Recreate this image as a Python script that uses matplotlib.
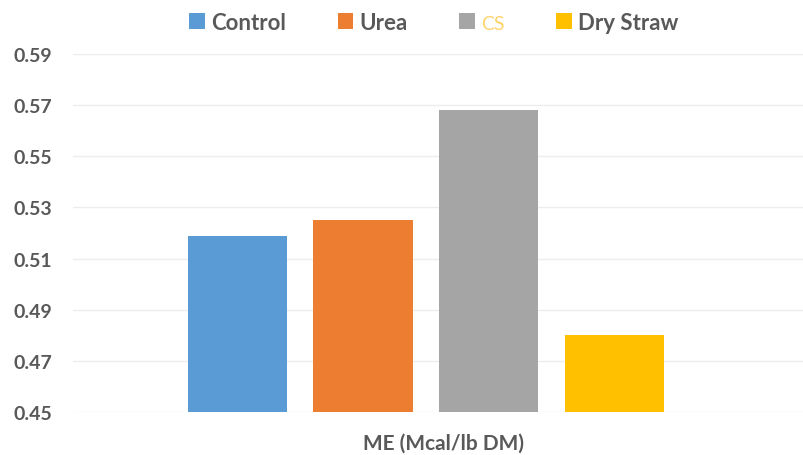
import matplotlib
matplotlib.use('Agg')
import matplotlib.pyplot as plt
from matplotlib.patches import Patch

plt.rcParams['font.family'] = ['Lato', 'DejaVu Sans']

groups = ['Control', 'Urea', 'CS', 'Dry Straw']
me_values = [0.519, 0.525, 0.568, 0.480]
colors = ['#5B9BD5', '#ED7D31', '#A5A5A5', '#FFC000']
y_ticks = [0.45, 0.47, 0.49, 0.51, 0.53, 0.55, 0.57, 0.59]

text_gray = '#595959'

fig = plt.figure(figsize=(8.04, 4.56), dpi=100)
ax = fig.add_axes([73 / 804, 1 - 413 / 456, 742 / 804, 358 / 456])

index = range(len(groups))
ax.bar(index, [v - 0.45 for v in me_values], width=0.79, bottom=0.45,
       color=colors, zorder=2)

ax.set_ylim(0.45, 0.59)
ax.set_xlim(-1.31, 4.6)
ax.set_yticks(y_ticks)
ax.set_yticklabels(['%.2f' % t for t in y_ticks])
ax.set_xticks([])
ax.grid(axis='y', color='#EDEDED', linewidth=1, zorder=0)
for spine in ax.spines.values():
    spine.set_visible(False)
ax.tick_params(axis='y', length=0, pad=15, labelsize=14, labelcolor=text_gray)
for lbl in ax.get_yticklabels():
    lbl.set_fontweight('bold')

ax.set_xlabel('ME (Mcal/lb DM)', fontsize=15, color=text_gray,
              fontweight='bold', labelpad=15)

handles = [Patch(facecolor=c) for c in colors]
leg = fig.legend(handles, groups, loc='center', ncol=4,
                 bbox_to_anchor=(434 / 804, 1 - 23 / 456), frameon=False,
                 fontsize=16, handlelength=0.7, handleheight=0.7,
                 handletextpad=0.3, columnspacing=2.3)
for i, t in enumerate(leg.get_texts()):
    t.set_color(text_gray)
    t.set_fontweight('bold')
cs_text = leg.get_texts()[2]
cs_text.set_color('#FFD36B')
cs_text.set_fontweight('normal')
cs_text.set_fontsize(14)

fig.savefig('out.png', dpi=100)
